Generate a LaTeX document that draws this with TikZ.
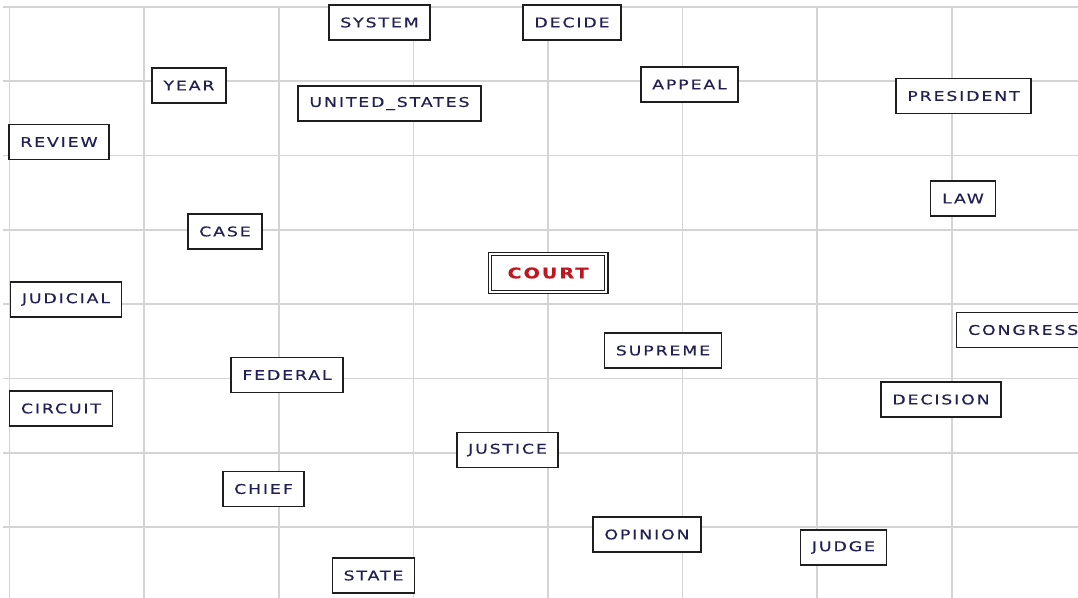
\documentclass[tikz,border=0pt]{standalone}
\usepackage{fontspec}
\newfontfamily\wordfont[FakeStretch=1.3,LetterSpace=14,FakeBold=0.4]{DejaVu Sans}
\definecolor{gridgray}{RGB}{212,212,212}
\definecolor{wordblue}{RGB}{32,32,84}
\definecolor{courtred}{RGB}{190,22,30}
\definecolor{boxline}{RGB}{30,30,30}

\begin{document}
\begin{tikzpicture}[x=0.75pt,y=0.75pt,yscale=-1,xscale=1,
	word/.style={draw=boxline,line width=1.1pt,fill=white,text=wordblue,font=\wordfont\fontsize{10}{12}\selectfont,inner xsep=8.5pt,inner ysep=0pt,minimum height=26pt},
	headword/.style={word,line width=0.8pt,double=white,double distance=1.6pt,text=courtred,font=\wordfont\bfseries\fontsize{11}{13}\selectfont,minimum height=29pt,inner xsep=13.5pt}]
		\useasboundingbox (0,0) rectangle (1078,598);
		% grid
		\foreach \gx in {9.5,144.1,278.7,413.3,547.9,682.5,817.1,951.7}
			\draw [gridgray,line width=1.2pt] (\gx,7) -- (\gx,598);
		\foreach \gy in {7,81.3,155.6,229.9,304.2,378.5,452.8,527.1}
			\draw [gridgray,line width=1.2pt] (3,\gy) -- (1078,\gy);
		% words
		\node [word] (system) at (379.5,22.5) {SYSTEM};
		\node [word] (decide) at (572,22.5) {DECIDE};
		\node [word] (year) at (189,85.5) {YEAR};
		\node [word] (unitedstates) at (389.5,103.5) {UNITED\_STATES};
		\node [word] (appeal) at (689.5,84.5) {APPEAL};
		\node [word] (president) at (963.5,96) {PRESIDENT};
		\node [word] (review) at (59,142) {REVIEW};
		\node [word] (law) at (963,198.5) {LAW};
		\node [word] (case) at (225,231.5) {CASE};
		\node [headword] (court) at (548,273) {COURT};
		\node [word] (judicial) at (66,299.5) {JUDICIAL};
		\node [word,anchor=west] (congress) at (956,330) {CONGRESS};
		\node [word] (supreme) at (663,350.5) {SUPREME};
		\node [word] (federal) at (287,375) {FEDERAL};
		\node [word] (decision) at (941,399.5) {DECISION};
		\node [word] (circuit) at (61,408.5) {CIRCUIT};
		\node [word] (justice) at (507.5,450) {JUSTICE};
		\node [word] (chief) at (263.5,489) {CHIEF};
		\node [word] (opinion) at (647,534.5) {OPINION};
		\node [word] (judge) at (843.5,547.5) {JUDGE};
		\node [word] (state) at (373.5,575.5) {STATE};
\end{tikzpicture}
\end{document}
